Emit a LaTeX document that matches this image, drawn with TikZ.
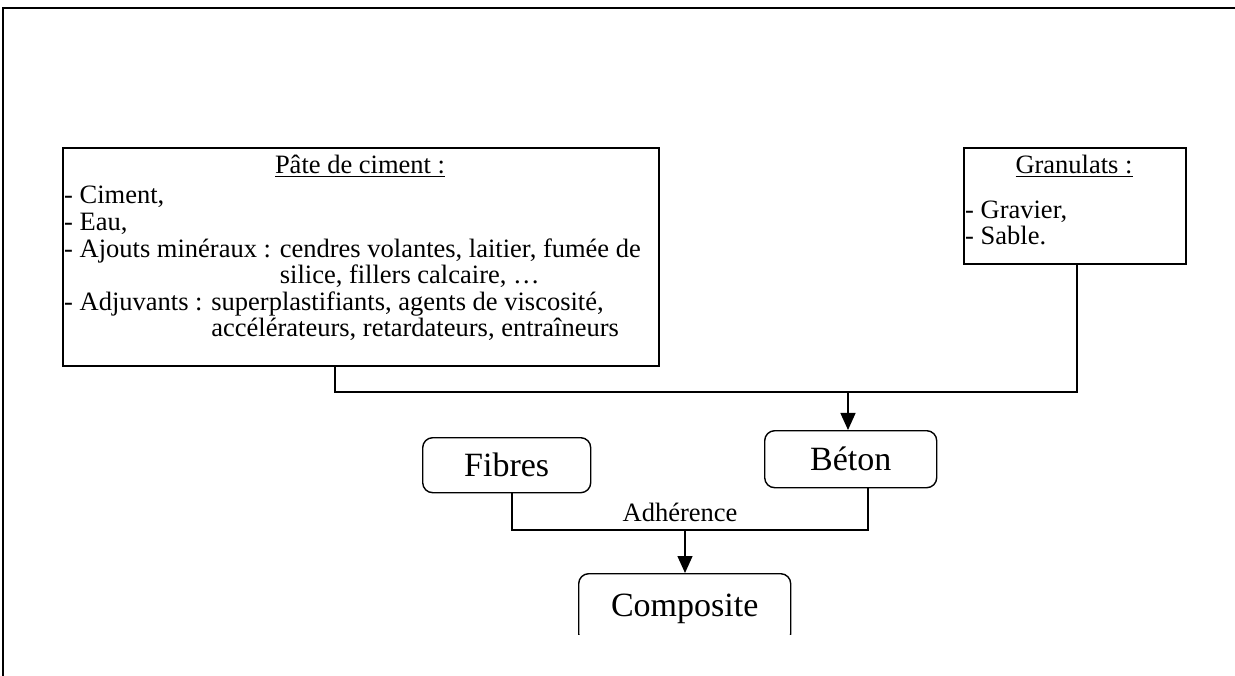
\documentclass[tikz,border=0pt]{standalone}
\usepackage{fontspec}
\setmainfont{Liberation Serif}
\usetikzlibrary{arrows.meta}
\begin{document}
\begin{tikzpicture}[x=1pt,y=-1pt,
  body/.style={font=\fontsize{26.5}{26.5}\selectfont, inner sep=0pt},
  rbox/.style={draw, rounded corners=10pt, line width=1.4pt, font=\fontsize{34}{36}\selectfont, inner sep=0pt},
  sbox/.style={draw, line width=1.6pt, inner sep=0pt},
  conn/.style={line width=1.4pt},
  arr/.style={conn, -{Triangle[length=17pt,width=15pt]}}]
\useasboundingbox (0,0) rectangle (1235,676);
% frame
\coordinate (f1) at (3,676);
\coordinate (f2) at (3,8);
\coordinate (f3) at (1235,8);
\draw[line width=1.6pt] (f1) -- (f2) -- (f3);
% Pate de ciment
\node[sbox, minimum width=596pt, minimum height=218pt, anchor=north west] (pate) at (62,147) {};
\node[body, anchor=base] (ptitle) at (360,174) {\underline{Pâte de ciment :}};
\node[body, anchor=base west] (p1) at (64,204) {- Ciment,};
\node[body, anchor=base west] (p2) at (64,231) {- Eau,};
\node[body, anchor=base west] (p3) at (64,258) {- Ajouts minéraux : cendres volantes, laitier, fumée de};
\node[body, anchor=base west] (p4) at (64,284) {\phantom{- Ajouts minéraux : }silice, fillers calcaire, …};
\node[body, anchor=base west] (p5) at (64,311) {- Adjuvants : superplastifiants, agents de viscosité,};
\node[body, anchor=base west] (p6) at (64,337) {\phantom{- Adjuvants : }accélérateurs, retardateurs, entraîneurs};
% Granulats
\node[sbox, minimum width=222pt, minimum height=116pt, anchor=north west] (gran) at (963,147) {};
\node[body, anchor=base] (gtitle) at (1074,174) {\underline{Granulats :}};
\node[body, anchor=base west] (g1) at (965,219) {- Gravier,};
\node[body, anchor=base west] (g2) at (965,245) {- Sable.};
% Beton, Fibres
\node[rbox, minimum width=172pt, minimum height=57pt, anchor=north west] (beton) at (764,430) {Béton};
\node[rbox, minimum width=168pt, minimum height=55pt, anchor=north west] (fibres) at (422,437) {Fibres};
\begin{scope}
\clip (0,0) rectangle (1235,634);
\node[rbox, minimum width=212pt, minimum height=70pt, anchor=north west] (comp) at (578,573) {Composite};
\end{scope}
% connectors
\coordinate (j1) at (335,392);
\coordinate (j2) at (1077,392);
\coordinate (jm) at (848,392);
\draw[conn] (pate.south -| j1) -- (j1) -- (j2) -- (gran.south -| j2);
\draw[arr] (jm) -- (beton.north -| jm);
\coordinate (k1) at (512,530);
\coordinate (k2) at (868,530);
\coordinate (km) at (685,530);
\draw[conn] (fibres.south -| k1) -- (k1) -- (k2) -- (beton.south -| k2);
\draw[arr] (km) -- (comp.north -| km);
\node[body, anchor=base] (adh) at (680,521) {Adhérence};
\end{tikzpicture}
\end{document}
